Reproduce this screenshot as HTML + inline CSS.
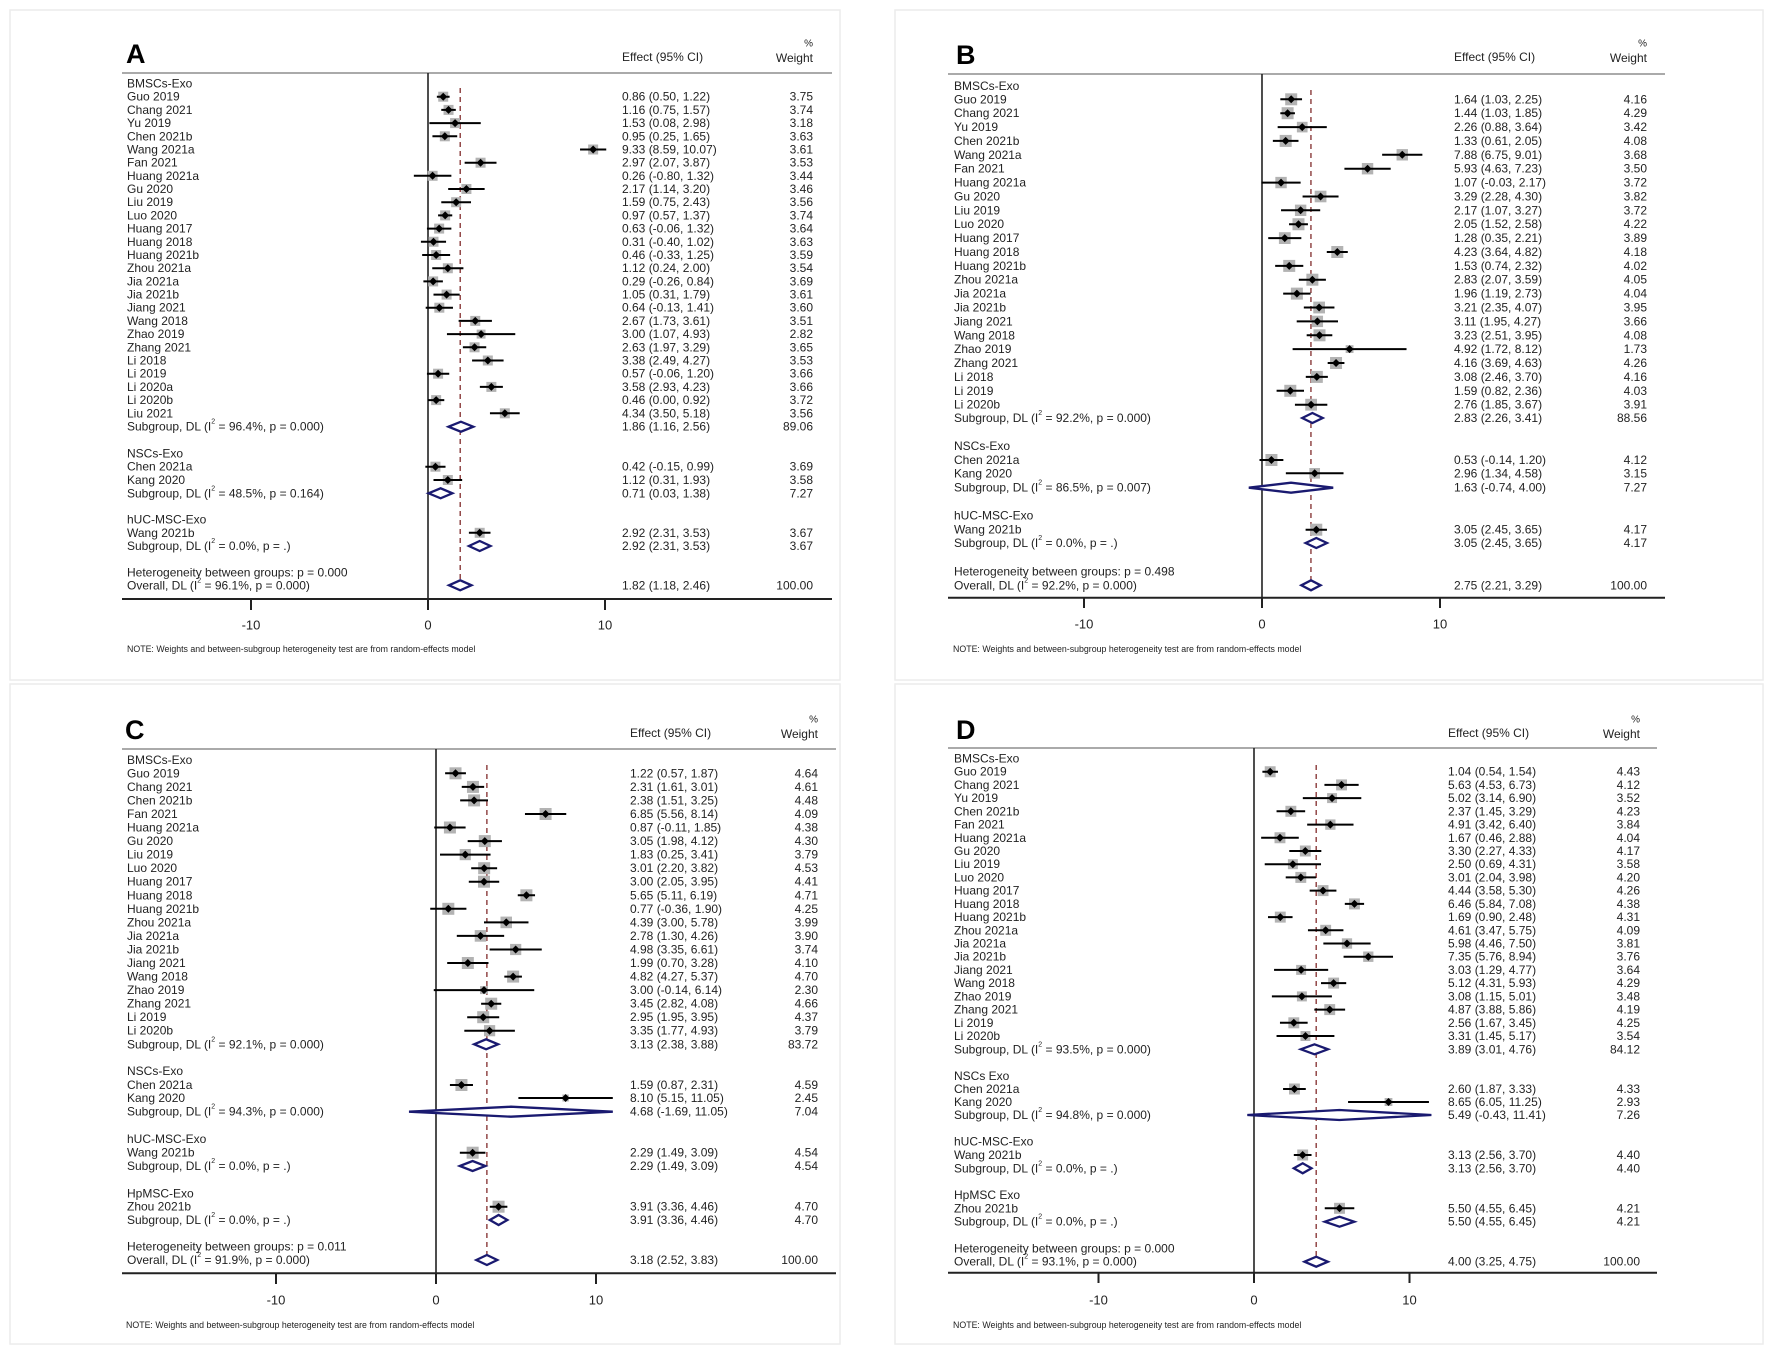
<!DOCTYPE html>
<html><head><meta charset="utf-8"><style>
html,body{margin:0;padding:0;background:#fff;}
svg{display:block;}
text{font-family:"Liberation Sans",Arial,sans-serif;font-size:12px;fill:#222;dominant-baseline:central;}
.ttl{font-size:27px;font-weight:bold;fill:#000;dominant-baseline:auto;}
.w{text-anchor:end;}
.tk{text-anchor:middle;font-size:13px;}
.note{font-size:8.8px;}
.ci{stroke:none;fill:#000;}
.sq{fill:#b3b3b3;stroke:none;}
.sd{fill:#fff;stroke:#1a1a70;stroke-width:2.3;stroke-linejoin:miter;}
.z{stroke:#222;stroke-width:1.6;vector-effect:non-scaling-stroke;}
.ds{stroke:#8a3a3a;stroke-width:1.4;stroke-dasharray:5 4;vector-effect:non-scaling-stroke;}
.hl{stroke:#aaa;stroke-width:2;}
.ax{stroke:#222;stroke-width:2;}
</style></head><body>
<svg width="1772" height="1351" viewBox="0 0 1772 1351" xmlns="http://www.w3.org/2000/svg">
<rect x="0" y="0" width="1772" height="1351" fill="#fff"/>
<rect x="10" y="10" width="830" height="670" fill="none" stroke="#ececec" stroke-width="1.5"/>
<rect x="895" y="10" width="868" height="670" fill="none" stroke="#ececec" stroke-width="1.5"/>
<rect x="10" y="684" width="830" height="660" fill="none" stroke="#ececec" stroke-width="1.5"/>
<rect x="895" y="684" width="868" height="660" fill="none" stroke="#ececec" stroke-width="1.5"/>

<!-- ================= PANEL A ================= -->
<text class="ttl" x="126" y="63">A</text>
<text x="622" y="57">Effect (95% CI)</text>
<text class="w" x="813" y="44" style="font-size:10px">%</text>
<text class="w" x="813" y="58">Weight</text>
<line class="hl" x1="122" y1="73" x2="832" y2="73"/>
<line class="ax" x1="122" y1="599" x2="832" y2="599"/>
<line class="ax" x1="251" y1="599" x2="251" y2="610"/><line class="ax" x1="428" y1="599" x2="428" y2="610"/><line class="ax" x1="605" y1="599" x2="605" y2="610"/>
<text class="tk" x="251" y="625">-10</text><text class="tk" x="428" y="625">0</text><text class="tk" x="605" y="625">10</text>
<text class="note" x="127" y="649">NOTE: Weights and between-subgroup heterogeneity test are from random-effects model</text>
<g>
<text x="127" y="83.3">BMSCs-Exo</text>
<text x="127" y="96.7">Guo 2019</text><text x="127" y="109.9">Chang 2021</text><text x="127" y="123.1">Yu 2019</text><text x="127" y="136.3">Chen 2021b</text><text x="127" y="149.5">Wang 2021a</text><text x="127" y="162.7">Fan 2021</text><text x="127" y="175.8">Huang 2021a</text><text x="127" y="189">Gu 2020</text><text x="127" y="202.2">Liu 2019</text><text x="127" y="215.4">Luo 2020</text><text x="127" y="228.6">Huang 2017</text><text x="127" y="241.8">Huang 2018</text><text x="127" y="255">Huang 2021b</text><text x="127" y="268.2">Zhou 2021a</text><text x="127" y="281.4">Jia 2021a</text><text x="127" y="294.6">Jia 2021b</text><text x="127" y="307.7">Jiang 2021</text><text x="127" y="320.9">Wang 2018</text><text x="127" y="334.1">Zhao 2019</text><text x="127" y="347.3">Zhang 2021</text><text x="127" y="360.5">Li 2018</text><text x="127" y="373.7">Li 2019</text><text x="127" y="386.9">Li 2020a</text><text x="127" y="400.1">Li 2020b</text><text x="127" y="413.3">Liu 2021</text>
<text x="127" y="426.7">Subgroup, DL (I<tspan dy="-5" font-size="7">2</tspan><tspan dy="5"> = 96.4%, p = 0.000)</tspan></text>
<text x="127" y="453.3">NSCs-Exo</text><text x="127" y="466.7">Chen 2021a</text><text x="127" y="480">Kang 2020</text>
<text x="127" y="493.3">Subgroup, DL (I<tspan dy="-5" font-size="7">2</tspan><tspan dy="5"> = 48.5%, p = 0.164)</tspan></text>
<text x="127" y="519.6">hUC-MSC-Exo</text><text x="127" y="532.8">Wang 2021b</text>
<text x="127" y="546">Subgroup, DL (I<tspan dy="-5" font-size="7">2</tspan><tspan dy="5"> = 0.0%, p = .)</tspan></text>
<text x="127" y="572.5">Heterogeneity between groups: p = 0.000</text>
<text x="127" y="585.3">Overall, DL (I<tspan dy="-5" font-size="7">2</tspan><tspan dy="5"> = 96.1%, p = 0.000)</tspan></text>
</g>
<g>
<text x="622" y="96.7">0.86 (0.50, 1.22)</text><text x="622" y="109.9">1.16 (0.75, 1.57)</text><text x="622" y="123.1">1.53 (0.08, 2.98)</text><text x="622" y="136.3">0.95 (0.25, 1.65)</text><text x="622" y="149.5">9.33 (8.59, 10.07)</text><text x="622" y="162.7">2.97 (2.07, 3.87)</text><text x="622" y="175.8">0.26 (-0.80, 1.32)</text><text x="622" y="189">2.17 (1.14, 3.20)</text><text x="622" y="202.2">1.59 (0.75, 2.43)</text><text x="622" y="215.4">0.97 (0.57, 1.37)</text><text x="622" y="228.6">0.63 (-0.06, 1.32)</text><text x="622" y="241.8">0.31 (-0.40, 1.02)</text><text x="622" y="255">0.46 (-0.33, 1.25)</text><text x="622" y="268.2">1.12 (0.24, 2.00)</text><text x="622" y="281.4">0.29 (-0.26, 0.84)</text><text x="622" y="294.6">1.05 (0.31, 1.79)</text><text x="622" y="307.7">0.64 (-0.13, 1.41)</text><text x="622" y="320.9">2.67 (1.73, 3.61)</text><text x="622" y="334.1">3.00 (1.07, 4.93)</text><text x="622" y="347.3">2.63 (1.97, 3.29)</text><text x="622" y="360.5">3.38 (2.49, 4.27)</text><text x="622" y="373.7">0.57 (-0.06, 1.20)</text><text x="622" y="386.9">3.58 (2.93, 4.23)</text><text x="622" y="400.1">0.46 (0.00, 0.92)</text><text x="622" y="413.3">4.34 (3.50, 5.18)</text><text x="622" y="426.7">1.86 (1.16, 2.56)</text>
<text x="622" y="466.7">0.42 (-0.15, 0.99)</text><text x="622" y="480">1.12 (0.31, 1.93)</text><text x="622" y="493.3">0.71 (0.03, 1.38)</text>
<text x="622" y="532.8">2.92 (2.31, 3.53)</text><text x="622" y="546">2.92 (2.31, 3.53)</text>
<text x="622" y="585.3">1.82 (1.18, 2.46)</text>
</g>
<g>
<text class="w" x="813" y="96.7">3.75</text><text class="w" x="813" y="109.9">3.74</text><text class="w" x="813" y="123.1">3.18</text><text class="w" x="813" y="136.3">3.63</text><text class="w" x="813" y="149.5">3.61</text><text class="w" x="813" y="162.7">3.53</text><text class="w" x="813" y="175.8">3.44</text><text class="w" x="813" y="189">3.46</text><text class="w" x="813" y="202.2">3.56</text><text class="w" x="813" y="215.4">3.74</text><text class="w" x="813" y="228.6">3.64</text><text class="w" x="813" y="241.8">3.63</text><text class="w" x="813" y="255">3.59</text><text class="w" x="813" y="268.2">3.54</text><text class="w" x="813" y="281.4">3.69</text><text class="w" x="813" y="294.6">3.61</text><text class="w" x="813" y="307.7">3.60</text><text class="w" x="813" y="320.9">3.51</text><text class="w" x="813" y="334.1">2.82</text><text class="w" x="813" y="347.3">3.65</text><text class="w" x="813" y="360.5">3.53</text><text class="w" x="813" y="373.7">3.66</text><text class="w" x="813" y="386.9">3.66</text><text class="w" x="813" y="400.1">3.72</text><text class="w" x="813" y="413.3">3.56</text><text class="w" x="813" y="426.7">89.06</text>
<text class="w" x="813" y="466.7">3.69</text><text class="w" x="813" y="480">3.58</text><text class="w" x="813" y="493.3">7.27</text>
<text class="w" x="813" y="532.8">3.67</text><text class="w" x="813" y="546">3.67</text>
<text class="w" x="813" y="585.3">100.00</text>
</g>
<svg x="0" y="0" width="1772" height="1351" viewBox="-24.181 0 100.113 1351" preserveAspectRatio="none" overflow="visible">
<line class="z" x1="0" y1="73" x2="0" y2="599"/>
<line class="ds" x1="1.82" y1="88" x2="1.82" y2="592"/>
<g class="sq">
<path d="M0.86 96.7m-.2825 -5h.565v10h-.565z"/><path d="M1.16 109.9m-.2825 -5h.565v10h-.565z"/><path d="M1.53 123.1m-.2825 -5h.565v10h-.565z"/><path d="M0.95 136.3m-.2825 -5h.565v10h-.565z"/><path d="M9.33 149.5m-.2825 -5h.565v10h-.565z"/><path d="M2.97 162.7m-.2825 -5h.565v10h-.565z"/><path d="M0.26 175.8m-.2825 -5h.565v10h-.565z"/><path d="M2.17 189m-.2825 -5h.565v10h-.565z"/><path d="M1.59 202.2m-.2825 -5h.565v10h-.565z"/><path d="M0.97 215.4m-.2825 -5h.565v10h-.565z"/><path d="M0.63 228.6m-.2825 -5h.565v10h-.565z"/><path d="M0.31 241.8m-.2825 -5h.565v10h-.565z"/><path d="M0.46 255m-.2825 -5h.565v10h-.565z"/><path d="M1.12 268.2m-.2825 -5h.565v10h-.565z"/><path d="M0.29 281.4m-.2825 -5h.565v10h-.565z"/><path d="M1.05 294.6m-.2825 -5h.565v10h-.565z"/><path d="M0.64 307.7m-.2825 -5h.565v10h-.565z"/><path d="M2.67 320.9m-.2825 -5h.565v10h-.565z"/><path d="M3.00 334.1m-.25 -4.5h.5v9h-.5z"/><path d="M2.63 347.3m-.2825 -5h.565v10h-.565z"/><path d="M3.38 360.5m-.2825 -5h.565v10h-.565z"/><path d="M0.57 373.7m-.2825 -5h.565v10h-.565z"/><path d="M3.58 386.9m-.2825 -5h.565v10h-.565z"/><path d="M0.46 400.1m-.2825 -5h.565v10h-.565z"/><path d="M4.34 413.3m-.2825 -5h.565v10h-.565z"/>
<path d="M0.42 466.7m-.2825 -5h.565v10h-.565z"/><path d="M1.12 480m-.2825 -5h.565v10h-.565z"/><path d="M2.92 532.8m-.2825 -5h.565v10h-.565z"/>
</g>
<g class="ci">
<path d="M0.50 96.7v-1H1.22v2H0.50zM0.86 96.7m-.226 0l.226 -4l.226 4l-.226 4z"/>
<path d="M0.75 109.9v-1H1.57v2H0.75zM1.16 109.9m-.226 0l.226 -4l.226 4l-.226 4z"/>
<path d="M0.08 123.1v-1H2.98v2H0.08zM1.53 123.1m-.226 0l.226 -4l.226 4l-.226 4z"/>
<path d="M0.25 136.3v-1H1.65v2H0.25zM0.95 136.3m-.226 0l.226 -4l.226 4l-.226 4z"/>
<path d="M8.59 149.5v-1H10.07v2H8.59zM9.33 149.5m-.226 0l.226 -4l.226 4l-.226 4z"/>
<path d="M2.07 162.7v-1H3.87v2H2.07zM2.97 162.7m-.226 0l.226 -4l.226 4l-.226 4z"/>
<path d="M-0.80 175.8v-1H1.32v2H-0.80zM0.26 175.8m-.226 0l.226 -4l.226 4l-.226 4z"/>
<path d="M1.14 189v-1H3.20v2H1.14zM2.17 189m-.226 0l.226 -4l.226 4l-.226 4z"/>
<path d="M0.75 202.2v-1H2.43v2H0.75zM1.59 202.2m-.226 0l.226 -4l.226 4l-.226 4z"/>
<path d="M0.57 215.4v-1H1.37v2H0.57zM0.97 215.4m-.226 0l.226 -4l.226 4l-.226 4z"/>
<path d="M-0.06 228.6v-1H1.32v2H-0.06zM0.63 228.6m-.226 0l.226 -4l.226 4l-.226 4z"/>
<path d="M-0.40 241.8v-1H1.02v2H-0.40zM0.31 241.8m-.226 0l.226 -4l.226 4l-.226 4z"/>
<path d="M-0.33 255v-1H1.25v2H-0.33zM0.46 255m-.226 0l.226 -4l.226 4l-.226 4z"/>
<path d="M0.24 268.2v-1H2.00v2H0.24zM1.12 268.2m-.226 0l.226 -4l.226 4l-.226 4z"/>
<path d="M-0.26 281.4v-1H0.84v2H-0.26zM0.29 281.4m-.226 0l.226 -4l.226 4l-.226 4z"/>
<path d="M0.31 294.6v-1H1.79v2H0.31zM1.05 294.6m-.226 0l.226 -4l.226 4l-.226 4z"/>
<path d="M-0.13 307.7v-1H1.41v2H-0.13zM0.64 307.7m-.226 0l.226 -4l.226 4l-.226 4z"/>
<path d="M1.73 320.9v-1H3.61v2H1.73zM2.67 320.9m-.226 0l.226 -4l.226 4l-.226 4z"/>
<path d="M1.07 334.1v-1H4.93v2H1.07zM3.00 334.1m-.226 0l.226 -4l.226 4l-.226 4z"/>
<path d="M1.97 347.3v-1H3.29v2H1.97zM2.63 347.3m-.226 0l.226 -4l.226 4l-.226 4z"/>
<path d="M2.49 360.5v-1H4.27v2H2.49zM3.38 360.5m-.226 0l.226 -4l.226 4l-.226 4z"/>
<path d="M-0.06 373.7v-1H1.20v2H-0.06zM0.57 373.7m-.226 0l.226 -4l.226 4l-.226 4z"/>
<path d="M2.93 386.9v-1H4.23v2H2.93zM3.58 386.9m-.226 0l.226 -4l.226 4l-.226 4z"/>
<path d="M0.00 400.1v-1H0.92v2H0.00zM0.46 400.1m-.226 0l.226 -4l.226 4l-.226 4z"/>
<path d="M3.50 413.3v-1H5.18v2H3.50zM4.34 413.3m-.226 0l.226 -4l.226 4l-.226 4z"/>
<path d="M-0.15 466.7v-1H0.99v2H-0.15zM0.42 466.7m-.226 0l.226 -4l.226 4l-.226 4z"/>
<path d="M0.31 480v-1H1.93v2H0.31zM1.12 480m-.226 0l.226 -4l.226 4l-.226 4z"/>
<path d="M2.31 532.8v-1H3.53v2H2.31zM2.92 532.8m-.226 0l.226 -4l.226 4l-.226 4z"/>
</g>
</svg>
<g class="sd">
<path d="M448.5 426.7L460.9 421.7L473.3 426.7L460.9 431.7Z"/>
<path d="M428.5 493.3L440.6 488.3L452.4 493.3L440.6 498.3Z"/>
<path d="M468.9 546L479.7 541L490.5 546L479.7 551Z"/>
<path d="M448.9 585.3L460.2 580.3L471.5 585.3L460.2 590.3Z"/>
</g>

<!-- ================= PANEL B ================= -->
<text class="ttl" x="956" y="64">B</text>
<text x="1454" y="57">Effect (95% CI)</text>
<text class="w" x="1647" y="44" style="font-size:10px">%</text>
<text class="w" x="1647" y="58">Weight</text>
<line class="hl" x1="948" y1="74" x2="1665" y2="74"/>
<line class="ax" x1="948" y1="597.7" x2="1665" y2="597.7"/>
<line class="ax" x1="1084" y1="597.7" x2="1084" y2="608"/><line class="ax" x1="1262" y1="597.7" x2="1262" y2="608"/><line class="ax" x1="1440" y1="597.7" x2="1440" y2="608"/>
<text class="tk" x="1084" y="624">-10</text><text class="tk" x="1262" y="624">0</text><text class="tk" x="1440" y="624">10</text>
<text class="note" x="953" y="649">NOTE: Weights and between-subgroup heterogeneity test are from random-effects model</text>
<g>
<text x="954" y="86">BMSCs-Exo</text>
<text x="954" y="99.3">Guo 2019</text><text x="954" y="113.2">Chang 2021</text><text x="954" y="127.1">Yu 2019</text><text x="954" y="140.9">Chen 2021b</text><text x="954" y="154.8">Wang 2021a</text><text x="954" y="168.7">Fan 2021</text><text x="954" y="182.6">Huang 2021a</text><text x="954" y="196.5">Gu 2020</text><text x="954" y="210.3">Liu 2019</text><text x="954" y="224.2">Luo 2020</text><text x="954" y="238.1">Huang 2017</text><text x="954" y="252">Huang 2018</text><text x="954" y="265.9">Huang 2021b</text><text x="954" y="279.7">Zhou 2021a</text><text x="954" y="293.6">Jia 2021a</text><text x="954" y="307.5">Jia 2021b</text><text x="954" y="321.4">Jiang 2021</text><text x="954" y="335.3">Wang 2018</text><text x="954" y="349.1">Zhao 2019</text><text x="954" y="363">Zhang 2021</text><text x="954" y="376.9">Li 2018</text><text x="954" y="390.8">Li 2019</text><text x="954" y="404.7">Li 2020b</text>
<text x="954" y="418">Subgroup, DL (I<tspan dy="-5" font-size="7">2</tspan><tspan dy="5"> = 92.2%, p = 0.000)</tspan></text>
<text x="954" y="446">NSCs-Exo</text><text x="954" y="460">Chen 2021a</text><text x="954" y="473.3">Kang 2020</text>
<text x="954" y="487.7">Subgroup, DL (I<tspan dy="-5" font-size="7">2</tspan><tspan dy="5"> = 86.5%, p = 0.007)</tspan></text>
<text x="954" y="515.3">hUC-MSC-Exo</text><text x="954" y="529.7">Wang 2021b</text>
<text x="954" y="543">Subgroup, DL (I<tspan dy="-5" font-size="7">2</tspan><tspan dy="5"> = 0.0%, p = .)</tspan></text>
<text x="954" y="571.7">Heterogeneity between groups: p = 0.498</text>
<text x="954" y="585.3">Overall, DL (I<tspan dy="-5" font-size="7">2</tspan><tspan dy="5"> = 92.2%, p = 0.000)</tspan></text>
</g>
<g>
<text x="1454" y="99.3">1.64 (1.03, 2.25)</text><text x="1454" y="113.2">1.44 (1.03, 1.85)</text><text x="1454" y="127.1">2.26 (0.88, 3.64)</text><text x="1454" y="140.9">1.33 (0.61, 2.05)</text><text x="1454" y="154.8">7.88 (6.75, 9.01)</text><text x="1454" y="168.7">5.93 (4.63, 7.23)</text><text x="1454" y="182.6">1.07 (-0.03, 2.17)</text><text x="1454" y="196.5">3.29 (2.28, 4.30)</text><text x="1454" y="210.3">2.17 (1.07, 3.27)</text><text x="1454" y="224.2">2.05 (1.52, 2.58)</text><text x="1454" y="238.1">1.28 (0.35, 2.21)</text><text x="1454" y="252">4.23 (3.64, 4.82)</text><text x="1454" y="265.9">1.53 (0.74, 2.32)</text><text x="1454" y="279.7">2.83 (2.07, 3.59)</text><text x="1454" y="293.6">1.96 (1.19, 2.73)</text><text x="1454" y="307.5">3.21 (2.35, 4.07)</text><text x="1454" y="321.4">3.11 (1.95, 4.27)</text><text x="1454" y="335.3">3.23 (2.51, 3.95)</text><text x="1454" y="349.1">4.92 (1.72, 8.12)</text><text x="1454" y="363">4.16 (3.69, 4.63)</text><text x="1454" y="376.9">3.08 (2.46, 3.70)</text><text x="1454" y="390.8">1.59 (0.82, 2.36)</text><text x="1454" y="404.7">2.76 (1.85, 3.67)</text><text x="1454" y="418">2.83 (2.26, 3.41)</text>
<text x="1454" y="460">0.53 (-0.14, 1.20)</text><text x="1454" y="473.3">2.96 (1.34, 4.58)</text><text x="1454" y="487.7">1.63 (-0.74, 4.00)</text>
<text x="1454" y="529.7">3.05 (2.45, 3.65)</text><text x="1454" y="543">3.05 (2.45, 3.65)</text>
<text x="1454" y="585.3">2.75 (2.21, 3.29)</text>
</g>
<g>
<text class="w" x="1647" y="99.3">4.16</text><text class="w" x="1647" y="113.2">4.29</text><text class="w" x="1647" y="127.1">3.42</text><text class="w" x="1647" y="140.9">4.08</text><text class="w" x="1647" y="154.8">3.68</text><text class="w" x="1647" y="168.7">3.50</text><text class="w" x="1647" y="182.6">3.72</text><text class="w" x="1647" y="196.5">3.82</text><text class="w" x="1647" y="210.3">3.72</text><text class="w" x="1647" y="224.2">4.22</text><text class="w" x="1647" y="238.1">3.89</text><text class="w" x="1647" y="252">4.18</text><text class="w" x="1647" y="265.9">4.02</text><text class="w" x="1647" y="279.7">4.05</text><text class="w" x="1647" y="293.6">4.04</text><text class="w" x="1647" y="307.5">3.95</text><text class="w" x="1647" y="321.4">3.66</text><text class="w" x="1647" y="335.3">4.08</text><text class="w" x="1647" y="349.1">1.73</text><text class="w" x="1647" y="363">4.26</text><text class="w" x="1647" y="376.9">4.16</text><text class="w" x="1647" y="390.8">4.03</text><text class="w" x="1647" y="404.7">3.91</text><text class="w" x="1647" y="418">88.56</text>
<text class="w" x="1647" y="460">4.12</text><text class="w" x="1647" y="473.3">3.15</text><text class="w" x="1647" y="487.7">7.27</text>
<text class="w" x="1647" y="529.7">4.17</text><text class="w" x="1647" y="543">4.17</text>
<text class="w" x="1647" y="585.3">100.00</text>
</g>
<svg x="0" y="0" width="1772" height="1351" viewBox="-70.899 0 99.551 1351" preserveAspectRatio="none" overflow="visible">
<line class="z" x1="0" y1="74" x2="0" y2="597.7"/>
<line class="ds" x1="2.75" y1="90" x2="2.75" y2="592"/>
<g class="sq">
<path d="M1.64 99.3m-.337 -6h.674v12h-.674z"/><path d="M1.44 113.2m-.337 -6h.674v12h-.674z"/><path d="M2.26 127.1m-.3 -5.3h.6v10.6h-.6z"/><path d="M1.33 140.9m-.337 -6h.674v12h-.674z"/><path d="M7.88 154.8m-.32 -5.7h.64v11.4h-.64z"/><path d="M5.93 168.7m-.32 -5.7h.64v11.4h-.64z"/><path d="M1.07 182.6m-.32 -5.7h.64v11.4h-.64z"/><path d="M3.29 196.5m-.33 -5.8h.66v11.6h-.66z"/><path d="M2.17 210.3m-.32 -5.7h.64v11.4h-.64z"/><path d="M2.05 224.2m-.337 -6h.674v12h-.674z"/><path d="M1.28 238.1m-.33 -5.9h.66v11.8h-.66z"/><path d="M4.23 252m-.337 -6h.674v12h-.674z"/><path d="M1.53 265.9m-.337 -6h.674v12h-.674z"/><path d="M2.83 279.7m-.337 -6h.674v12h-.674z"/><path d="M1.96 293.6m-.337 -6h.674v12h-.674z"/><path d="M3.21 307.5m-.33 -5.9h.66v11.8h-.66z"/><path d="M3.11 321.4m-.32 -5.7h.64v11.4h-.64z"/><path d="M3.23 335.3m-.337 -6h.674v12h-.674z"/><path d="M4.92 349.1m-.22 -3.9h.44v7.8h-.44z"/><path d="M4.16 363m-.337 -6h.674v12h-.674z"/><path d="M3.08 376.9m-.337 -6h.674v12h-.674z"/><path d="M1.59 390.8m-.337 -6h.674v12h-.674z"/><path d="M2.76 404.7m-.33 -5.9h.66v11.8h-.66z"/>
<path d="M0.53 460m-.337 -6h.674v12h-.674z"/><path d="M2.96 473.3m-.3 -5.3h.6v10.6h-.6z"/><path d="M3.05 529.7m-.337 -6h.674v12h-.674z"/>
</g>
<g class="ci">
<path d="M1.03 99.3v-1H2.25v2H1.03zM1.64 99.3m-.225 0l.225 -4l.225 4l-.225 4z"/>
<path d="M1.03 113.2v-1H1.85v2H1.03zM1.44 113.2m-.225 0l.225 -4l.225 4l-.225 4z"/>
<path d="M0.88 127.1v-1H3.64v2H0.88zM2.26 127.1m-.225 0l.225 -4l.225 4l-.225 4z"/>
<path d="M0.61 140.9v-1H2.05v2H0.61zM1.33 140.9m-.225 0l.225 -4l.225 4l-.225 4z"/>
<path d="M6.75 154.8v-1H9.01v2H6.75zM7.88 154.8m-.225 0l.225 -4l.225 4l-.225 4z"/>
<path d="M4.63 168.7v-1H7.23v2H4.63zM5.93 168.7m-.225 0l.225 -4l.225 4l-.225 4z"/>
<path d="M-0.03 182.6v-1H2.17v2H-0.03zM1.07 182.6m-.225 0l.225 -4l.225 4l-.225 4z"/>
<path d="M2.28 196.5v-1H4.30v2H2.28zM3.29 196.5m-.225 0l.225 -4l.225 4l-.225 4z"/>
<path d="M1.07 210.3v-1H3.27v2H1.07zM2.17 210.3m-.225 0l.225 -4l.225 4l-.225 4z"/>
<path d="M1.52 224.2v-1H2.58v2H1.52zM2.05 224.2m-.225 0l.225 -4l.225 4l-.225 4z"/>
<path d="M0.35 238.1v-1H2.21v2H0.35zM1.28 238.1m-.225 0l.225 -4l.225 4l-.225 4z"/>
<path d="M3.64 252v-1H4.82v2H3.64zM4.23 252m-.225 0l.225 -4l.225 4l-.225 4z"/>
<path d="M0.74 265.9v-1H2.32v2H0.74zM1.53 265.9m-.225 0l.225 -4l.225 4l-.225 4z"/>
<path d="M2.07 279.7v-1H3.59v2H2.07zM2.83 279.7m-.225 0l.225 -4l.225 4l-.225 4z"/>
<path d="M1.19 293.6v-1H2.73v2H1.19zM1.96 293.6m-.225 0l.225 -4l.225 4l-.225 4z"/>
<path d="M2.35 307.5v-1H4.07v2H2.35zM3.21 307.5m-.225 0l.225 -4l.225 4l-.225 4z"/>
<path d="M1.95 321.4v-1H4.27v2H1.95zM3.11 321.4m-.225 0l.225 -4l.225 4l-.225 4z"/>
<path d="M2.51 335.3v-1H3.95v2H2.51zM3.23 335.3m-.225 0l.225 -4l.225 4l-.225 4z"/>
<path d="M1.72 349.1v-1H8.12v2H1.72zM4.92 349.1m-.225 0l.225 -4l.225 4l-.225 4z"/>
<path d="M3.69 363v-1H4.63v2H3.69zM4.16 363m-.225 0l.225 -4l.225 4l-.225 4z"/>
<path d="M2.46 376.9v-1H3.70v2H2.46zM3.08 376.9m-.225 0l.225 -4l.225 4l-.225 4z"/>
<path d="M0.82 390.8v-1H2.36v2H0.82zM1.59 390.8m-.225 0l.225 -4l.225 4l-.225 4z"/>
<path d="M1.85 404.7v-1H3.67v2H1.85zM2.76 404.7m-.225 0l.225 -4l.225 4l-.225 4z"/>
<path d="M-0.14 460v-1H1.20v2H-0.14zM0.53 460m-.225 0l.225 -4l.225 4l-.225 4z"/>
<path d="M1.34 473.3v-1H4.58v2H1.34zM2.96 473.3m-.225 0l.225 -4l.225 4l-.225 4z"/>
<path d="M2.45 529.7v-1H3.65v2H2.45zM3.05 529.7m-.225 0l.225 -4l.225 4l-.225 4z"/>
</g>
</svg>
<g class="sd">
<path d="M1302.2 418L1312.4 413L1322.7 418L1312.4 423Z"/>
<path d="M1248.8 487.7L1291 482.7L1333.2 487.7L1291 492.7Z"/>
<path d="M1305.6 543L1316.3 538L1327 543L1316.3 548Z"/>
<path d="M1301.3 585.3L1311 580.3L1320.6 585.3L1311 590.3Z"/>
</g>

<!-- ================= PANEL C ================= -->
<text class="ttl" x="125" y="739">C</text>
<text x="630" y="733">Effect (95% CI)</text>
<text class="w" x="818" y="720" style="font-size:10px">%</text>
<text class="w" x="818" y="734">Weight</text>
<line class="hl" x1="122" y1="749" x2="836" y2="749"/>
<line class="ax" x1="122" y1="1273.3" x2="836" y2="1273.3"/>
<line class="ax" x1="276" y1="1273.3" x2="276" y2="1284"/><line class="ax" x1="436" y1="1273.3" x2="436" y2="1284"/><line class="ax" x1="596" y1="1273.3" x2="596" y2="1284"/>
<text class="tk" x="276" y="1300">-10</text><text class="tk" x="436" y="1300">0</text><text class="tk" x="596" y="1300">10</text>
<text class="note" x="126" y="1325">NOTE: Weights and between-subgroup heterogeneity test are from random-effects model</text>
<g>
<text x="127" y="760">BMSCs-Exo</text>
<text x="127" y="773.3">Guo 2019</text><text x="127" y="786.9">Chang 2021</text><text x="127" y="800.4">Chen 2021b</text><text x="127" y="814">Fan 2021</text><text x="127" y="827.5">Huang 2021a</text><text x="127" y="841.1">Gu 2020</text><text x="127" y="854.6">Liu 2019</text><text x="127" y="868.2">Luo 2020</text><text x="127" y="881.7">Huang 2017</text><text x="127" y="895.3">Huang 2018</text><text x="127" y="908.8">Huang 2021b</text><text x="127" y="922.4">Zhou 2021a</text><text x="127" y="935.9">Jia 2021a</text><text x="127" y="949.5">Jia 2021b</text><text x="127" y="963">Jiang 2021</text><text x="127" y="976.6">Wang 2018</text><text x="127" y="990.1">Zhao 2019</text><text x="127" y="1003.7">Zhang 2021</text><text x="127" y="1017.2">Li 2019</text><text x="127" y="1030.7">Li 2020b</text>
<text x="127" y="1044.3">Subgroup, DL (I<tspan dy="-5" font-size="7">2</tspan><tspan dy="5"> = 92.1%, p = 0.000)</tspan></text>
<text x="127" y="1071">NSCs-Exo</text><text x="127" y="1085">Chen 2021a</text><text x="127" y="1098">Kang 2020</text>
<text x="127" y="1111.7">Subgroup, DL (I<tspan dy="-5" font-size="7">2</tspan><tspan dy="5"> = 94.3%, p = 0.000)</tspan></text>
<text x="127" y="1139">hUC-MSC-Exo</text><text x="127" y="1152.7">Wang 2021b</text>
<text x="127" y="1166">Subgroup, DL (I<tspan dy="-5" font-size="7">2</tspan><tspan dy="5"> = 0.0%, p = .)</tspan></text>
<text x="127" y="1193.3">HpMSC-Exo</text><text x="127" y="1206.7">Zhou 2021b</text>
<text x="127" y="1220">Subgroup, DL (I<tspan dy="-5" font-size="7">2</tspan><tspan dy="5"> = 0.0%, p = .)</tspan></text>
<text x="127" y="1246.7">Heterogeneity between groups: p = 0.011</text>
<text x="127" y="1260">Overall, DL (I<tspan dy="-5" font-size="7">2</tspan><tspan dy="5"> = 91.9%, p = 0.000)</tspan></text>
</g>
<g>
<text x="630" y="773.3">1.22 (0.57, 1.87)</text><text x="630" y="786.9">2.31 (1.61, 3.01)</text><text x="630" y="800.4">2.38 (1.51, 3.25)</text><text x="630" y="814">6.85 (5.56, 8.14)</text><text x="630" y="827.5">0.87 (-0.11, 1.85)</text><text x="630" y="841.1">3.05 (1.98, 4.12)</text><text x="630" y="854.6">1.83 (0.25, 3.41)</text><text x="630" y="868.2">3.01 (2.20, 3.82)</text><text x="630" y="881.7">3.00 (2.05, 3.95)</text><text x="630" y="895.3">5.65 (5.11, 6.19)</text><text x="630" y="908.8">0.77 (-0.36, 1.90)</text><text x="630" y="922.4">4.39 (3.00, 5.78)</text><text x="630" y="935.9">2.78 (1.30, 4.26)</text><text x="630" y="949.5">4.98 (3.35, 6.61)</text><text x="630" y="963">1.99 (0.70, 3.28)</text><text x="630" y="976.6">4.82 (4.27, 5.37)</text><text x="630" y="990.1">3.00 (-0.14, 6.14)</text><text x="630" y="1003.7">3.45 (2.82, 4.08)</text><text x="630" y="1017.2">2.95 (1.95, 3.95)</text><text x="630" y="1030.7">3.35 (1.77, 4.93)</text><text x="630" y="1044.3">3.13 (2.38, 3.88)</text>
<text x="630" y="1085">1.59 (0.87, 2.31)</text><text x="630" y="1098">8.10 (5.15, 11.05)</text><text x="630" y="1111.7">4.68 (-1.69, 11.05)</text>
<text x="630" y="1152.7">2.29 (1.49, 3.09)</text><text x="630" y="1166">2.29 (1.49, 3.09)</text>
<text x="630" y="1206.7">3.91 (3.36, 4.46)</text><text x="630" y="1220">3.91 (3.36, 4.46)</text>
<text x="630" y="1260">3.18 (2.52, 3.83)</text>
</g>
<g>
<text class="w" x="818" y="773.3">4.64</text><text class="w" x="818" y="786.9">4.61</text><text class="w" x="818" y="800.4">4.48</text><text class="w" x="818" y="814">4.09</text><text class="w" x="818" y="827.5">4.38</text><text class="w" x="818" y="841.1">4.30</text><text class="w" x="818" y="854.6">3.79</text><text class="w" x="818" y="868.2">4.53</text><text class="w" x="818" y="881.7">4.41</text><text class="w" x="818" y="895.3">4.71</text><text class="w" x="818" y="908.8">4.25</text><text class="w" x="818" y="922.4">3.99</text><text class="w" x="818" y="935.9">3.90</text><text class="w" x="818" y="949.5">3.74</text><text class="w" x="818" y="963">4.10</text><text class="w" x="818" y="976.6">4.70</text><text class="w" x="818" y="990.1">2.30</text><text class="w" x="818" y="1003.7">4.66</text><text class="w" x="818" y="1017.2">4.37</text><text class="w" x="818" y="1030.7">3.79</text><text class="w" x="818" y="1044.3">83.72</text>
<text class="w" x="818" y="1085">4.59</text><text class="w" x="818" y="1098">2.45</text><text class="w" x="818" y="1111.7">7.04</text>
<text class="w" x="818" y="1152.7">4.54</text><text class="w" x="818" y="1166">4.54</text>
<text class="w" x="818" y="1206.7">4.70</text><text class="w" x="818" y="1220">4.70</text>
<text class="w" x="818" y="1260">100.00</text>
</g>
<svg x="0" y="0" width="1772" height="1351" viewBox="-27.25 0 110.75 1351" preserveAspectRatio="none" overflow="visible">
<line class="z" x1="0" y1="749" x2="0" y2="1273.3"/>
<line class="ds" x1="3.18" y1="765" x2="3.18" y2="1266"/>
<g class="sq">
<path d="M1.22 773.3m-.375 -6h.75v12h-.75z"/><path d="M2.31 786.9m-.375 -6h.75v12h-.75z"/><path d="M2.38 800.4m-.375 -6h.75v12h-.75z"/><path d="M6.85 814m-.375 -6h.75v12h-.75z"/><path d="M0.87 827.5m-.375 -6h.75v12h-.75z"/><path d="M3.05 841.1m-.375 -6h.75v12h-.75z"/><path d="M1.83 854.6m-.35 -5.6h.7v11.2h-.7z"/><path d="M3.01 868.2m-.375 -6h.75v12h-.75z"/><path d="M3.00 881.7m-.375 -6h.75v12h-.75z"/><path d="M5.65 895.3m-.375 -6h.75v12h-.75z"/><path d="M0.77 908.8m-.375 -6h.75v12h-.75z"/><path d="M4.39 922.4m-.36 -5.8h.72v11.6h-.72z"/><path d="M2.78 935.9m-.36 -5.8h.72v11.6h-.72z"/><path d="M4.98 949.5m-.35 -5.6h.7v11.2h-.7z"/><path d="M1.99 963m-.375 -6h.75v12h-.75z"/><path d="M4.82 976.6m-.375 -6h.75v12h-.75z"/><path d="M3.00 990.1m-.25 -4h.5v8h-.5z"/><path d="M3.45 1003.7m-.375 -6h.75v12h-.75z"/><path d="M2.95 1017.2m-.375 -6h.75v12h-.75z"/><path d="M3.35 1030.7m-.35 -5.6h.7v11.2h-.7z"/>
<path d="M1.59 1085m-.375 -6h.75v12h-.75z"/><path d="M8.10 1098m-.2 -3.5h.4v7h-.4z"/><path d="M2.29 1152.7m-.375 -6h.75v12h-.75z"/><path d="M3.91 1206.7m-.375 -6h.75v12h-.75z"/>
</g>
<g class="ci">
<path d="M0.57 773.3v-1H1.87v2H0.57zM1.22 773.3m-.25 0l.25 -4l.25 4l-.25 4z"/>
<path d="M1.61 786.9v-1H3.01v2H1.61zM2.31 786.9m-.25 0l.25 -4l.25 4l-.25 4z"/>
<path d="M1.51 800.4v-1H3.25v2H1.51zM2.38 800.4m-.25 0l.25 -4l.25 4l-.25 4z"/>
<path d="M5.56 814v-1H8.14v2H5.56zM6.85 814m-.25 0l.25 -4l.25 4l-.25 4z"/>
<path d="M-0.11 827.5v-1H1.85v2H-0.11zM0.87 827.5m-.25 0l.25 -4l.25 4l-.25 4z"/>
<path d="M1.98 841.1v-1H4.12v2H1.98zM3.05 841.1m-.25 0l.25 -4l.25 4l-.25 4z"/>
<path d="M0.25 854.6v-1H3.41v2H0.25zM1.83 854.6m-.25 0l.25 -4l.25 4l-.25 4z"/>
<path d="M2.20 868.2v-1H3.82v2H2.20zM3.01 868.2m-.25 0l.25 -4l.25 4l-.25 4z"/>
<path d="M2.05 881.7v-1H3.95v2H2.05zM3.00 881.7m-.25 0l.25 -4l.25 4l-.25 4z"/>
<path d="M5.11 895.3v-1H6.19v2H5.11zM5.65 895.3m-.25 0l.25 -4l.25 4l-.25 4z"/>
<path d="M-0.36 908.8v-1H1.90v2H-0.36zM0.77 908.8m-.25 0l.25 -4l.25 4l-.25 4z"/>
<path d="M3.00 922.4v-1H5.78v2H3.00zM4.39 922.4m-.25 0l.25 -4l.25 4l-.25 4z"/>
<path d="M1.30 935.9v-1H4.26v2H1.30zM2.78 935.9m-.25 0l.25 -4l.25 4l-.25 4z"/>
<path d="M3.35 949.5v-1H6.61v2H3.35zM4.98 949.5m-.25 0l.25 -4l.25 4l-.25 4z"/>
<path d="M0.70 963v-1H3.28v2H0.70zM1.99 963m-.25 0l.25 -4l.25 4l-.25 4z"/>
<path d="M4.27 976.6v-1H5.37v2H4.27zM4.82 976.6m-.25 0l.25 -4l.25 4l-.25 4z"/>
<path d="M-0.14 990.1v-1H6.14v2H-0.14zM3.00 990.1m-.25 0l.25 -4l.25 4l-.25 4z"/>
<path d="M2.82 1003.7v-1H4.08v2H2.82zM3.45 1003.7m-.25 0l.25 -4l.25 4l-.25 4z"/>
<path d="M1.95 1017.2v-1H3.95v2H1.95zM2.95 1017.2m-.25 0l.25 -4l.25 4l-.25 4z"/>
<path d="M1.77 1030.7v-1H4.93v2H1.77zM3.35 1030.7m-.25 0l.25 -4l.25 4l-.25 4z"/>
<path d="M0.87 1085v-1H2.31v2H0.87zM1.59 1085m-.25 0l.25 -4l.25 4l-.25 4z"/>
<path d="M5.15 1098v-1H11.05v2H5.15zM8.10 1098m-.25 0l.25 -4l.25 4l-.25 4z"/>
<path d="M1.49 1152.7v-1H3.09v2H1.49zM2.29 1152.7m-.25 0l.25 -4l.25 4l-.25 4z"/>
<path d="M3.36 1206.7v-1H4.46v2H3.36zM3.91 1206.7m-.25 0l.25 -4l.25 4l-.25 4z"/>
</g>
</svg>
<g class="sd">
<path d="M474.1 1044.3L486.1 1039.3L498.1 1044.3L486.1 1049.3Z"/>
<path d="M409 1111.7L510.9 1106.7L612.8 1111.7L510.9 1116.7Z"/>
<path d="M459.8 1166L472.6 1161L485.4 1166L472.6 1171Z"/>
<path d="M489.8 1220L498.6 1215L507.4 1220L498.6 1225Z"/>
<path d="M476.3 1260L486.9 1255L497.3 1260L486.9 1265Z"/>
</g>

<!-- ================= PANEL D ================= -->
<text class="ttl" x="956" y="739">D</text>
<text x="1448" y="733">Effect (95% CI)</text>
<text class="w" x="1640" y="720" style="font-size:10px">%</text>
<text class="w" x="1640" y="734">Weight</text>
<line class="hl" x1="948" y1="748" x2="1657" y2="748"/>
<line class="ax" x1="948" y1="1272.7" x2="1657" y2="1272.7"/>
<line class="ax" x1="1098.5" y1="1272.7" x2="1098.5" y2="1283"/><line class="ax" x1="1254" y1="1272.7" x2="1254" y2="1283"/><line class="ax" x1="1409.5" y1="1272.7" x2="1409.5" y2="1283"/>
<text class="tk" x="1098.5" y="1300">-10</text><text class="tk" x="1254" y="1300">0</text><text class="tk" x="1409.5" y="1300">10</text>
<text class="note" x="953" y="1325">NOTE: Weights and between-subgroup heterogeneity test are from random-effects model</text>
<g>
<text x="954" y="758.7">BMSCs-Exo</text>
<text x="954" y="771.7">Guo 2019</text><text x="954" y="784.9">Chang 2021</text><text x="954" y="798.1">Yu 2019</text><text x="954" y="811.3">Chen 2021b</text><text x="954" y="824.6">Fan 2021</text><text x="954" y="837.8">Huang 2021a</text><text x="954" y="851">Gu 2020</text><text x="954" y="864.2">Liu 2019</text><text x="954" y="877.4">Luo 2020</text><text x="954" y="890.6">Huang 2017</text><text x="954" y="903.9">Huang 2018</text><text x="954" y="917.1">Huang 2021b</text><text x="954" y="930.3">Zhou 2021a</text><text x="954" y="943.5">Jia 2021a</text><text x="954" y="956.7">Jia 2021b</text><text x="954" y="969.9">Jiang 2021</text><text x="954" y="983.1">Wang 2018</text><text x="954" y="996.4">Zhao 2019</text><text x="954" y="1009.6">Zhang 2021</text><text x="954" y="1022.8">Li 2019</text><text x="954" y="1036">Li 2020b</text>
<text x="954" y="1049.3">Subgroup, DL (I<tspan dy="-5" font-size="7">2</tspan><tspan dy="5"> = 93.5%, p = 0.000)</tspan></text>
<text x="954" y="1076">NSCs Exo</text><text x="954" y="1089">Chen 2021a</text><text x="954" y="1102">Kang 2020</text>
<text x="954" y="1115">Subgroup, DL (I<tspan dy="-5" font-size="7">2</tspan><tspan dy="5"> = 94.8%, p = 0.000)</tspan></text>
<text x="954" y="1141.7">hUC-MSC-Exo</text><text x="954" y="1155">Wang 2021b</text>
<text x="954" y="1168.3">Subgroup, DL (I<tspan dy="-5" font-size="7">2</tspan><tspan dy="5"> = 0.0%, p = .)</tspan></text>
<text x="954" y="1195">HpMSC Exo</text><text x="954" y="1208.3">Zhou 2021b</text>
<text x="954" y="1221.7">Subgroup, DL (I<tspan dy="-5" font-size="7">2</tspan><tspan dy="5"> = 0.0%, p = .)</tspan></text>
<text x="954" y="1248.3">Heterogeneity between groups: p = 0.000</text>
<text x="954" y="1261.7">Overall, DL (I<tspan dy="-5" font-size="7">2</tspan><tspan dy="5"> = 93.1%, p = 0.000)</tspan></text>
</g>
<g>
<text x="1448" y="771.7">1.04 (0.54, 1.54)</text><text x="1448" y="784.9">5.63 (4.53, 6.73)</text><text x="1448" y="798.1">5.02 (3.14, 6.90)</text><text x="1448" y="811.3">2.37 (1.45, 3.29)</text><text x="1448" y="824.6">4.91 (3.42, 6.40)</text><text x="1448" y="837.8">1.67 (0.46, 2.88)</text><text x="1448" y="851">3.30 (2.27, 4.33)</text><text x="1448" y="864.2">2.50 (0.69, 4.31)</text><text x="1448" y="877.4">3.01 (2.04, 3.98)</text><text x="1448" y="890.6">4.44 (3.58, 5.30)</text><text x="1448" y="903.9">6.46 (5.84, 7.08)</text><text x="1448" y="917.1">1.69 (0.90, 2.48)</text><text x="1448" y="930.3">4.61 (3.47, 5.75)</text><text x="1448" y="943.5">5.98 (4.46, 7.50)</text><text x="1448" y="956.7">7.35 (5.76, 8.94)</text><text x="1448" y="969.9">3.03 (1.29, 4.77)</text><text x="1448" y="983.1">5.12 (4.31, 5.93)</text><text x="1448" y="996.4">3.08 (1.15, 5.01)</text><text x="1448" y="1009.6">4.87 (3.88, 5.86)</text><text x="1448" y="1022.8">2.56 (1.67, 3.45)</text><text x="1448" y="1036">3.31 (1.45, 5.17)</text><text x="1448" y="1049.3">3.89 (3.01, 4.76)</text>
<text x="1448" y="1089">2.60 (1.87, 3.33)</text><text x="1448" y="1102">8.65 (6.05, 11.25)</text><text x="1448" y="1115">5.49 (-0.43, 11.41)</text>
<text x="1448" y="1155">3.13 (2.56, 3.70)</text><text x="1448" y="1168.3">3.13 (2.56, 3.70)</text>
<text x="1448" y="1208.3">5.50 (4.55, 6.45)</text><text x="1448" y="1221.7">5.50 (4.55, 6.45)</text>
<text x="1448" y="1261.7">4.00 (3.25, 4.75)</text>
</g>
<g>
<text class="w" x="1640" y="771.7">4.43</text><text class="w" x="1640" y="784.9">4.12</text><text class="w" x="1640" y="798.1">3.52</text><text class="w" x="1640" y="811.3">4.23</text><text class="w" x="1640" y="824.6">3.84</text><text class="w" x="1640" y="837.8">4.04</text><text class="w" x="1640" y="851">4.17</text><text class="w" x="1640" y="864.2">3.58</text><text class="w" x="1640" y="877.4">4.20</text><text class="w" x="1640" y="890.6">4.26</text><text class="w" x="1640" y="903.9">4.38</text><text class="w" x="1640" y="917.1">4.31</text><text class="w" x="1640" y="930.3">4.09</text><text class="w" x="1640" y="943.5">3.81</text><text class="w" x="1640" y="956.7">3.76</text><text class="w" x="1640" y="969.9">3.64</text><text class="w" x="1640" y="983.1">4.29</text><text class="w" x="1640" y="996.4">3.48</text><text class="w" x="1640" y="1009.6">4.19</text><text class="w" x="1640" y="1022.8">4.25</text><text class="w" x="1640" y="1036">3.54</text><text class="w" x="1640" y="1049.3">84.12</text>
<text class="w" x="1640" y="1089">4.33</text><text class="w" x="1640" y="1102">2.93</text><text class="w" x="1640" y="1115">7.26</text>
<text class="w" x="1640" y="1155">4.40</text><text class="w" x="1640" y="1168.3">4.40</text>
<text class="w" x="1640" y="1208.3">4.21</text><text class="w" x="1640" y="1221.7">4.21</text>
<text class="w" x="1640" y="1261.7">100.00</text>
</g>
<svg x="0" y="0" width="1772" height="1351" viewBox="-80.643 0 113.955 1351" preserveAspectRatio="none" overflow="visible">
<line class="z" x1="0" y1="748" x2="0" y2="1272.7"/>
<line class="ds" x1="4.00" y1="765" x2="4.00" y2="1266"/>
<g class="sq">
<path d="M1.04 771.7m-.35 -5.5h.7v11h-.7z"/><path d="M5.63 784.9m-.35 -5.5h.7v11h-.7z"/><path d="M5.02 798.1m-.32 -5h.64v10h-.64z"/><path d="M2.37 811.3m-.35 -5.5h.7v11h-.7z"/><path d="M4.91 824.6m-.33 -5.2h.66v10.4h-.66z"/><path d="M1.67 837.8m-.35 -5.5h.7v11h-.7z"/><path d="M3.30 851m-.35 -5.5h.7v11h-.7z"/><path d="M2.50 864.2m-.32 -5h.64v10h-.64z"/><path d="M3.01 877.4m-.35 -5.5h.7v11h-.7z"/><path d="M4.44 890.6m-.35 -5.5h.7v11h-.7z"/><path d="M6.46 903.9m-.35 -5.5h.7v11h-.7z"/><path d="M1.69 917.1m-.35 -5.5h.7v11h-.7z"/><path d="M4.61 930.3m-.35 -5.5h.7v11h-.7z"/><path d="M5.98 943.5m-.33 -5.2h.66v10.4h-.66z"/><path d="M7.35 956.7m-.33 -5.2h.66v10.4h-.66z"/><path d="M3.03 969.9m-.32 -5h.64v10h-.64z"/><path d="M5.12 983.1m-.35 -5.5h.7v11h-.7z"/><path d="M3.08 996.4m-.32 -5h.64v10h-.64z"/><path d="M4.87 1009.6m-.35 -5.5h.7v11h-.7z"/><path d="M2.56 1022.8m-.35 -5.5h.7v11h-.7z"/><path d="M3.31 1036m-.32 -5h.64v10h-.64z"/>
<path d="M2.60 1089m-.35 -5.5h.7v11h-.7z"/><path d="M8.65 1102m-.25 -4h.5v8h-.5z"/><path d="M3.13 1155m-.35 -5.5h.7v11h-.7z"/><path d="M5.50 1208.3m-.35 -5.5h.7v11h-.7z"/>
</g>
<g class="ci">
<path d="M0.54 771.7v-1H1.54v2H0.54zM1.04 771.7m-.257 0l.257 -4l.257 4l-.257 4z"/>
<path d="M4.53 784.9v-1H6.73v2H4.53zM5.63 784.9m-.257 0l.257 -4l.257 4l-.257 4z"/>
<path d="M3.14 798.1v-1H6.90v2H3.14zM5.02 798.1m-.257 0l.257 -4l.257 4l-.257 4z"/>
<path d="M1.45 811.3v-1H3.29v2H1.45zM2.37 811.3m-.257 0l.257 -4l.257 4l-.257 4z"/>
<path d="M3.42 824.6v-1H6.40v2H3.42zM4.91 824.6m-.257 0l.257 -4l.257 4l-.257 4z"/>
<path d="M0.46 837.8v-1H2.88v2H0.46zM1.67 837.8m-.257 0l.257 -4l.257 4l-.257 4z"/>
<path d="M2.27 851v-1H4.33v2H2.27zM3.30 851m-.257 0l.257 -4l.257 4l-.257 4z"/>
<path d="M0.69 864.2v-1H4.31v2H0.69zM2.50 864.2m-.257 0l.257 -4l.257 4l-.257 4z"/>
<path d="M2.04 877.4v-1H3.98v2H2.04zM3.01 877.4m-.257 0l.257 -4l.257 4l-.257 4z"/>
<path d="M3.58 890.6v-1H5.30v2H3.58zM4.44 890.6m-.257 0l.257 -4l.257 4l-.257 4z"/>
<path d="M5.84 903.9v-1H7.08v2H5.84zM6.46 903.9m-.257 0l.257 -4l.257 4l-.257 4z"/>
<path d="M0.90 917.1v-1H2.48v2H0.90zM1.69 917.1m-.257 0l.257 -4l.257 4l-.257 4z"/>
<path d="M3.47 930.3v-1H5.75v2H3.47zM4.61 930.3m-.257 0l.257 -4l.257 4l-.257 4z"/>
<path d="M4.46 943.5v-1H7.50v2H4.46zM5.98 943.5m-.257 0l.257 -4l.257 4l-.257 4z"/>
<path d="M5.76 956.7v-1H8.94v2H5.76zM7.35 956.7m-.257 0l.257 -4l.257 4l-.257 4z"/>
<path d="M1.29 969.9v-1H4.77v2H1.29zM3.03 969.9m-.257 0l.257 -4l.257 4l-.257 4z"/>
<path d="M4.31 983.1v-1H5.93v2H4.31zM5.12 983.1m-.257 0l.257 -4l.257 4l-.257 4z"/>
<path d="M1.15 996.4v-1H5.01v2H1.15zM3.08 996.4m-.257 0l.257 -4l.257 4l-.257 4z"/>
<path d="M3.88 1009.6v-1H5.86v2H3.88zM4.87 1009.6m-.257 0l.257 -4l.257 4l-.257 4z"/>
<path d="M1.67 1022.8v-1H3.45v2H1.67zM2.56 1022.8m-.257 0l.257 -4l.257 4l-.257 4z"/>
<path d="M1.45 1036v-1H5.17v2H1.45zM3.31 1036m-.257 0l.257 -4l.257 4l-.257 4z"/>
<path d="M1.87 1089v-1H3.33v2H1.87zM2.60 1089m-.257 0l.257 -4l.257 4l-.257 4z"/>
<path d="M6.05 1102v-1H11.25v2H6.05zM8.65 1102m-.257 0l.257 -4l.257 4l-.257 4z"/>
<path d="M2.56 1155v-1H3.70v2H2.56zM3.13 1155m-.257 0l.257 -4l.257 4l-.257 4z"/>
<path d="M4.55 1208.3v-1H6.45v2H4.55zM5.50 1208.3m-.257 0l.257 -4l.257 4l-.257 4z"/>
</g>
</svg>
<g class="sd">
<path d="M1300.8 1049.3L1314.5 1044.3L1328 1049.3L1314.5 1054.3Z"/>
<path d="M1247.3 1115L1339.4 1110L1431.4 1115L1339.4 1120Z"/>
<path d="M1293.8 1168.3L1302.7 1163.3L1311.5 1168.3L1302.7 1173.3Z"/>
<path d="M1324.8 1221.7L1339.5 1216.7L1354.3 1221.7L1339.5 1226.7Z"/>
<path d="M1304.5 1261.7L1316.2 1256.7L1327.9 1261.7L1316.2 1266.7Z"/>
</g>
</svg>
</body></html>
